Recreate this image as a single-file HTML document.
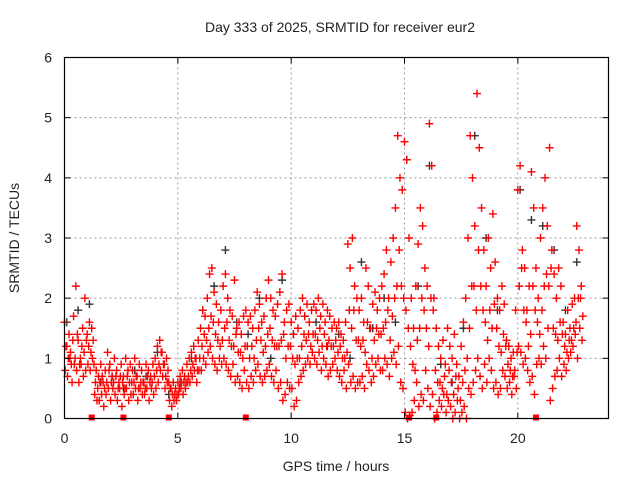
<!DOCTYPE html>
<html><head><meta charset="utf-8"><style>
body{margin:0;background:#fff}
svg text{font-family:"Liberation Sans",sans-serif;fill:#222}
</style></head><body>
<svg id="chart" width="640" height="480" viewBox="0 0 640 480" xmlns="http://www.w3.org/2000/svg">
<rect width="640" height="480" fill="#fff"/>
<g id="grid"></g>
<g id="marks"></g>
<rect x="64.5" y="57.5" width="544" height="361" fill="none" stroke="#000" stroke-width="1.2"/>
<g id="ticks"></g>
<text x="340" y="32" text-anchor="middle" font-size="14">Day 333 of 2025, SRMTID for receiver eur2</text>
<text x="336" y="471" text-anchor="middle" font-size="14">GPS time / hours</text>
<text transform="translate(19,238) rotate(-90)" text-anchor="middle" font-size="14">SRMTID / TECUs</text>
</svg>
<script>
const xTicks=[0,5,10,15,20];
const yTicks=[0,1,2,3,4,5,6];
const redA=[1.6,1.2,1.4,0.9,1.7,2.2,1.3,1.0,1.5,2.0, 1.4,1.6,1.5,0.9,0.8,0.7,0.9,0.6,0.8,1.1, 0.9,0.7,1.0,0.8,0.6,0.9,0.7,1.0,0.8,0.9, 0.8,1.0,0.7,0.9,0.8,0.6,0.9,0.8,0.7,0.9, 1.0,1.2,1.3,1.1,0.9,1.0,0.6,0.5,0.6,0.5, 0.6,0.7,0.8,0.7,0.9,1.0,1.1,1.2,1.0,1.3, 1.5,1.8,1.7,2.0,2.4,2.5,2.1,1.9,1.6,1.8, 2.2,2.4,2.0,1.8,1.7,2.3,1.5,1.6,1.4,1.7, 1.8,1.6,1.7,1.5,1.8,2.1,1.9,1.6,1.7,2.0, 2.3,2.0,1.8,1.7,1.9,2.1,2.4,1.6,1.8,1.9, 1.6,1.4,1.7,1.5,1.8,2.0,1.7,1.9,1.6,1.8, 1.9,1.8,2.0,1.7,1.9,1.6,1.8,1.7,1.5,1.6, 1.5,1.6,1.4,1.3,1.6,2.9,2.5,3.0,2.2,2.0, 1.8,2.0,1.6,2.5,2.2,1.5,1.9,2.1,1.8,2.0, 2.2,2.4,2.8,2.0,2.6,3.0,3.5,4.7,4.0,3.8, 4.6,4.3,3.0,2.0,1.5,2.2,2.9,3.5,3.2,2.5, 2.2,4.9,4.2,2.0,1.5,1.2,1.0,1.3,0.9,1.5, 1.2,1.0,1.4,0.9,0.7,1.2,1.6,2.0,3.0,4.7, 4.0,3.2,5.4,4.5,3.5,2.8,2.2,3.0,2.5,3.4, 2.6,2.0,1.8,2.2,1.9,1.3,1.2,1.0,1.1,1.8, 3.8,4.2,2.8,2.5,1.8,2.2,4.1,3.5,2.5,2.0, 3.0,3.5,4.0,3.2,4.5,2.8,2.4,2.0,2.5,2.2, 1.6,1.4,1.8,1.5,1.9,2.0,3.2,2.8,2.2];
const redB=[0.8,0.7,1.0,0.6,0.9,0.8,0.6,0.9,0.7,0.8, 0.9,0.8,1.0,0.4,0.3,0.3,0.4,0.2,0.4,0.5, 0.3,0.5,0.4,0.3,0.5,0.2,0.4,0.5,0.3,0.4, 0.4,0.5,0.3,0.5,0.4,0.4,0.5,0.3,0.5,0.4, 0.5,0.6,0.8,0.7,0.5,0.6,0.3,0.2,0.3,0.3, 0.4,0.5,0.4,0.5,0.6,0.6,0.7,0.8,0.6,0.8, 0.8,1.0,0.9,1.1,1.2,1.0,0.9,0.8,1.0,0.9, 1.0,0.9,0.8,0.7,0.9,0.6,0.7,0.6,0.5,0.8, 0.6,0.5,0.7,0.6,0.8,0.9,0.7,0.6,0.7,0.8, 0.9,0.7,0.6,0.8,0.5,0.6,0.3,0.4,0.6,0.5, 0.5,0.2,0.3,0.6,0.7,0.8,0.9,1.0,0.9,1.1, 1.0,0.9,1.1,0.8,1.0,0.9,0.7,0.8,0.9,1.0, 0.8,0.7,0.6,0.8,0.5,0.9,0.6,0.7,0.5,0.6, 0.6,0.7,0.5,0.9,0.8,0.6,0.7,0.9,1.0,0.8, 0.8,1.0,0.9,0.7,1.0,1.1,0.9,1.2,0.6,0.5, 0.1,0.0,0.05,0.1,0.3,0.6,0.2,0.4,0.3,0.8, 0.5,0.2,0.4,0.0,0.1,0.3,0.2,0.4,0.1,0.3, 0.2,0.0,0.1,0.3,0.0,0.1,0.2,0.0,0.5,0.4, 0.6,0.8,1.0,0.7,0.5,0.9,0.6,1.0,0.8,0.5, 0.6,0.4,0.5,0.8,0.7,0.5,0.6,0.4,0.7,0.5, 1.2,1.1,0.9,1.0,0.8,0.6,0.7,0.4,0.9,1.0, 0.9,1.2,1.0,1.5,0.3,0.5,0.7,0.8,1.0,0.7, 0.9,0.8,1.0,1.1,1.2,1.4,1.0,1.5,1.3];
const redC=[1.2,1.0,1.1,1.3,1.0,1.4,0.9,1.2,1.1,1.3, 1.2,1.1,1.3,0.6,0.5,0.6,0.7,0.5,0.6,0.8, 0.6,0.6,0.7,0.5,0.7,0.6,0.5,0.7,0.6,0.6, 0.6,0.7,0.5,0.6,0.6,0.5,0.7,0.6,0.6,0.7, 0.8,0.9,1.1,0.9,0.7,0.8,0.5,0.4,0.4,0.4, 0.5,0.6,0.6,0.6,0.7,0.8,0.9,1.0,0.8,1.0, 1.2,1.4,1.3,1.5,1.7,1.6,1.4,1.3,1.2,1.3, 1.5,1.6,1.3,1.2,1.2,1.4,1.1,1.1,1.0,1.2, 1.2,1.0,1.2,1.0,1.3,1.5,1.3,1.1,1.2,1.4, 1.5,1.3,1.2,1.2,1.2,1.3,1.4,1.0,1.2,1.2, 1.0,0.9,1.0,1.0,1.2,1.4,1.3,1.4,1.2,1.4, 1.4,1.3,1.5,1.2,1.4,1.2,1.3,1.2,1.2,1.3, 1.1,1.2,1.0,1.0,1.1,1.8,1.5,1.8,1.3,1.3, 1.2,1.3,1.1,1.6,1.5,1.0,1.3,1.5,1.4,1.4, 1.5,1.6,1.8,1.3,1.7,2.0,2.2,2.8,2.2,2.0, 1.8,1.5,1.2,0.9,0.8,1.3,1.5,2.0,1.8,1.5, 1.2,2.0,1.8,0.8,0.6,0.6,0.5,0.7,0.4,0.8, 0.6,0.4,0.7,0.5,0.3,0.6,0.8,1.0,1.5,2.2, 2.2,1.8,2.8,2.2,1.8,1.6,1.3,1.8,1.5,1.9, 1.5,1.2,1.1,1.4,1.2,0.9,0.8,0.7,0.8,1.1, 2.2,2.5,1.8,1.6,1.2,1.4,2.2,1.8,1.6,1.4, 1.8,2.2,2.4,2.2,2.5,1.5,1.4,1.3,1.6,1.4, 1.2,1.1,1.3,1.3,1.5,1.6,2.0,2.0,1.7];
const blackVals=[1.6,1.8,1.9,0.6,0.7,0.5,0.8,0.7,1.1,0.4,0.6,1.0,1.8,2.2,2.8,1.6,1.4,2.0,1.0,2.3,1.4,1.7,1.6,1.2,1.4,1.0,2.6,1.5,2.0,1.6,4.3,2.2,4.2,0.9,0.6,1.5,4.7,3.0,1.8,1.2,3.8,3.3,3.2,2.8,1.8,2.6];
const gapTimes=[1.2,2.6,4.6,8.0,15.2,16.4,20.8];
const redDt=0.1, blackDt=0.5;

const NS='http://www.w3.org/2000/svg';
const X0=64.5,X1=608.5,Y0=418.5,Y1=57.5;
const xs=t=>X0+(t/24)*(X1-X0);
const ys=v=>Y0-(v/6)*(Y0-Y1);
function mk(tag,attrs,parent){const e=document.createElementNS(NS,tag);for(const k in attrs)e.setAttribute(k,attrs[k]);parent.appendChild(e);return e;}
const grid=document.getElementById('grid'),marks=document.getElementById('marks'),ticks=document.getElementById('ticks');
xTicks.forEach(t=>{
  if(t>0){const g=mk('line',{x1:xs(t),x2:xs(t),y1:Y1,y2:Y0,stroke:'#999','stroke-dasharray':'2,3'},grid);
  
  }
  const tk=mk('line',{x1:xs(t),x2:xs(t),y1:Y0,y2:Y0-6,stroke:'#000'},ticks);
  
  
  const tk2=mk('line',{x1:xs(t),x2:xs(t),y1:Y1,y2:Y1+6,stroke:'#000'},ticks);
  
  
  const tx=mk('text',{x:xs(t),y:443,'text-anchor':'middle','font-size':'14'},ticks);tx.textContent=t;
  
  
});
yTicks.forEach(v=>{
  if(v>0&&v<6){const g=mk('line',{x1:X0,x2:X1,y1:ys(v),y2:ys(v),stroke:'#999','stroke-dasharray':'2,3'},grid);
  
  }
  const tk=mk('line',{x1:X0,x2:X0+6,y1:ys(v),y2:ys(v),stroke:'#000'},ticks);
  
  
  const tk2=mk('line',{x1:X1,x2:X1-6,y1:ys(v),y2:ys(v),stroke:'#000'},ticks);
  
  
  const tx=mk('text',{x:52,y:ys(v)+5,'text-anchor':'end','font-size':'14'},ticks);tx.textContent=v;
  
  
});
function plus(t,v,col,name){
  const x=xs(t),y=ys(v);
  const p=mk('path',{d:`M${x-4},${y}h8M${x},${y-4}v8`,stroke:col,'stroke-width':'1.4',fill:'none'},marks);
  
  
}
blackVals.forEach((v,i)=>plus(i*blackDt+0.1,v,'#333','black-point'));
[redA,redB,redC].forEach((arr,k)=>arr.forEach((v,i)=>plus(i*redDt+k*0.033,v,'#ff0000','red-point')));
gapTimes.forEach(t=>{
  const r=mk('rect',{x:xs(t)-3,y:Y0-4,width:6,height:6,fill:'#ff0000'},marks);
  
  
});
</script>
</body></html>
